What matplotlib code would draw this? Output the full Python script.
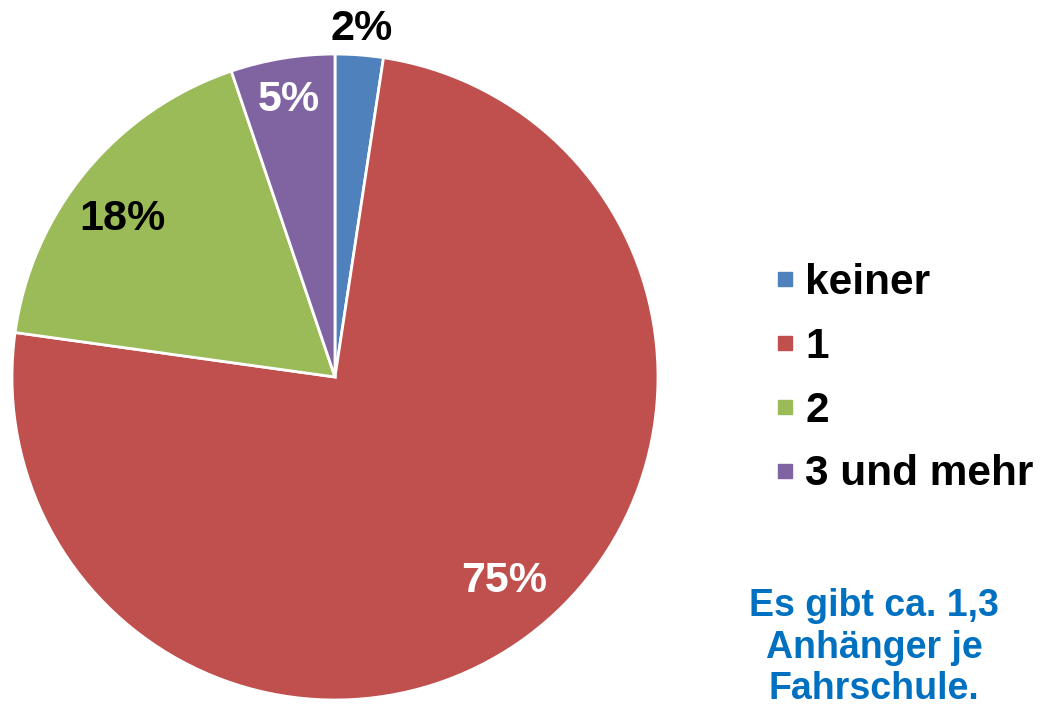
import numpy as np
import matplotlib
matplotlib.use("Agg")
from matplotlib import pyplot as plt
from matplotlib.lines import Line2D

plt.rcParams['font.family'] = ['Liberation Sans', 'DejaVu Sans']

# data (shares in percent)
categories = ["keiner", "1", "2", "3 und mehr"]
shares = [2.4, 74.8, 17.6, 5.2]
pct_labels = ["2%", "75%", "18%", "5%"]
colors = ["#4F81BD", "#C0504D", "#9BBB59", "#8064A2"]
label_colors = ["black", "white", "black", "white"]
label_dist = [1.08, 0.82, 0.82, 0.87]
label_turn = [0, 3, 3, 0]   # small angle nudge in degrees
note = "Es gibt ca. 1,3\nAnhänger je\nFahrschule."

fig = plt.figure(figsize=(10.41, 7.08), dpi=100)
ax = fig.add_axes([0.0115, 0.0113, 0.6206, 0.9124])
wedges, _ = ax.pie(shares, colors=colors, startangle=90, counterclock=False,
                   radius=1, wedgeprops=dict(edgecolor="white", linewidth=2))
ax.set_xlim(-1, 1)
ax.set_ylim(-1, 1)
ax.set_aspect("equal")
ax.axis("off")

#percent labels at the middle angle of each wedge
for w, txt, c, d, t in zip(wedges, pct_labels, label_colors, label_dist, label_turn):
    ang = np.deg2rad((w.theta1 + w.theta2) / 2 + t)
    ax.text(d * np.cos(ang), d * np.sin(ang), txt, ha="center", va="center",
            fontsize=31, fontweight="bold", color=c)

handles = [Line2D([], [], marker="s", linestyle="none", markersize=10,
                  markerfacecolor=c, markeredgecolor=c) for c in colors]
fig.legend(handles, categories, loc="center left", bbox_to_anchor=(0.7245, 0.465),
           frameon=False, prop=dict(size=30.5, weight="bold"),
           handlelength=0.45, handletextpad=0.25, labelspacing=0.56, borderpad=0)

fig.text(0.8395, 0.085, note, ha="center", va="center", fontsize=27,
         fontweight="bold", color="#0070C0", linespacing=1.2)

fig.savefig("out.png", dpi=100)
